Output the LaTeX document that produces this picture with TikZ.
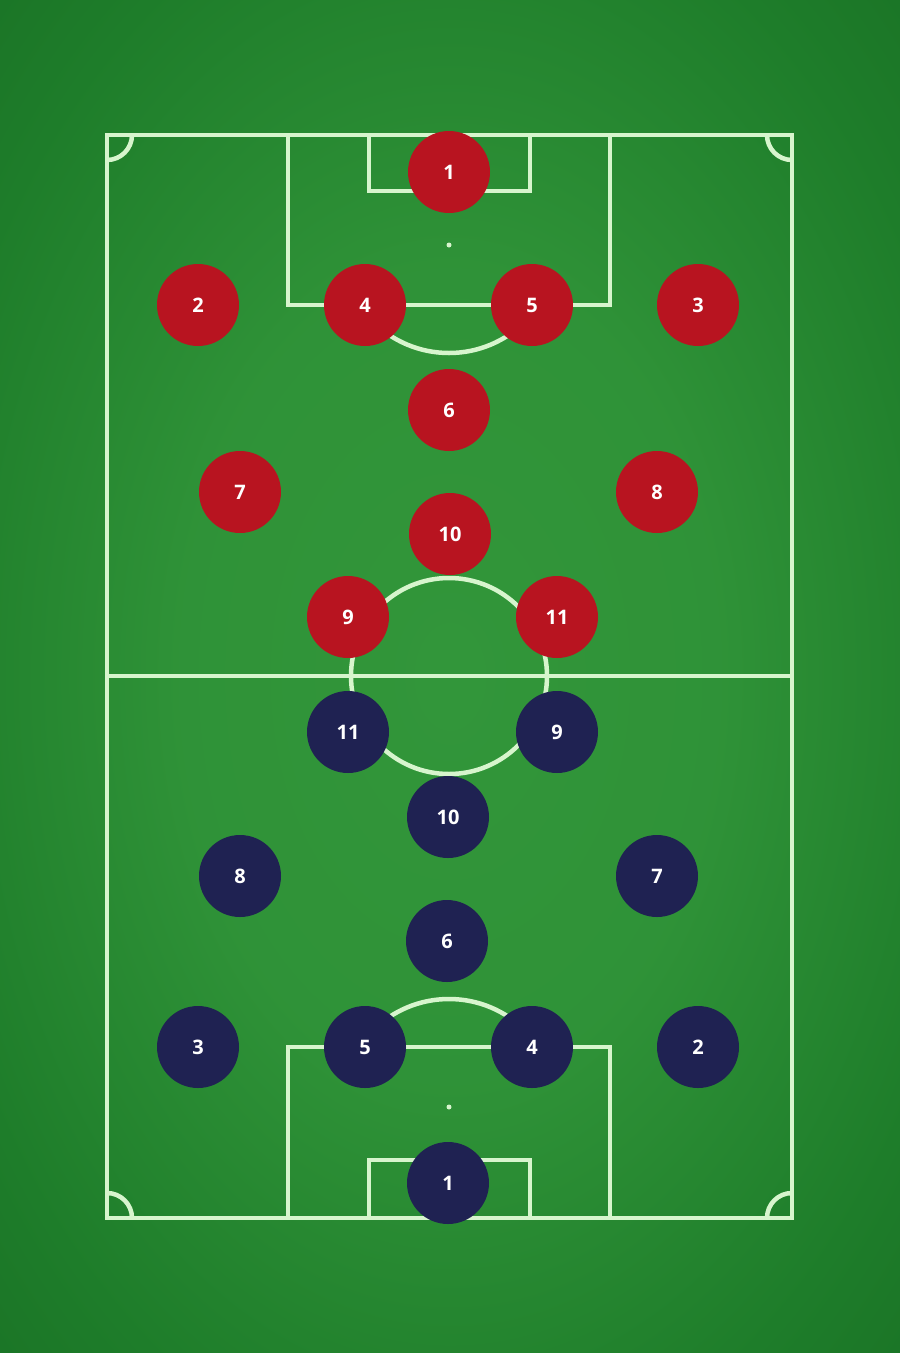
\documentclass[tikz,border=0pt]{standalone}
\usepackage{fontspec}
\setmainfont{Open Sans}
\definecolor{redteam}{RGB}{184,20,32}
\definecolor{blueteam}{RGB}{31,34,82}
\definecolor{pitchline}{RGB}{215,245,205}
\definecolor{grassin}{RGB}{50,150,58}
\definecolor{grassmid}{RGB}{30,125,42}
\definecolor{grassout}{RGB}{12,80,22}
\pgfdeclareradialshading{grass}{\pgfpoint{0bp}{0bp}}{%
  color(0bp)=(grassin); color(15bp)=(grassin!85!grassmid); color(30bp)=(grassmid); color(45bp)=(grassmid!55!grassout); color(58bp)=(grassout); color(100bp)=(grassout)}
\tikzset{
  pline/.style={draw=pitchline, line width=4.5pt},
  player/.style={circle, minimum size=82pt, inner sep=0pt, text=white, font=\fontsize{20pt}{22pt}\selectfont\bfseries},
  redp/.style={player, fill=redteam},
  bluep/.style={player, fill=blueteam}
}
\begin{document}
\begin{tikzpicture}[x=1pt,y=-1pt]
\useasboundingbox (0,0) rectangle (900,1353);
\shade[shading=grass] (0,0) rectangle (900,1353);
% pitch
\draw[pline] (107,135) rectangle (792,1218);
\draw[pline] (107,676) -- (792,676);
\draw[pline] (449,676) circle (98);
% top
\draw[pline] (288,135) -- (288,305) -- (610,305) -- (610,135);
\draw[pline] (369,135) -- (369,191) -- (530,191) -- (530,135);
\fill[pitchline] (449,245) circle (2.5);
\begin{scope}
\clip (0,305) rectangle (900,400);
\draw[pline] (449,245) circle (108);
\end{scope}
% bottom
\draw[pline] (288,1218) -- (288,1047) -- (610,1047) -- (610,1218);
\draw[pline] (369,1218) -- (369,1160) -- (530,1160) -- (530,1218);
\fill[pitchline] (449,1107) circle (2.5);
\begin{scope}
\clip (0,950) rectangle (900,1047);
\draw[pline] (449,1107) circle (108);
\end{scope}
% corners
\begin{scope}
\clip (107,135) rectangle (792,1218);
\draw[pline] (107,135) circle (25);
\draw[pline] (792,135) circle (25);
\draw[pline] (107,1218) circle (25);
\draw[pline] (792,1218) circle (25);
\end{scope}
% red team
\node[redp] (r1) at (449,172) {1};
\node[redp] (r2) at (198,305) {2};
\node[redp] (r4) at (365,305) {4};
\node[redp] (r5) at (532,305) {5};
\node[redp] (r3) at (698,305) {3};
\node[redp] (r6) at (449,410) {6};
\node[redp] (r7) at (240,492) {7};
\node[redp] (r8) at (657,492) {8};
\node[redp] (r10) at (450,534) {10};
\node[redp] (r9) at (348,617) {9};
\node[redp] (r11) at (557,617) {11};
% blue team
\node[bluep] (b11) at (348,732) {11};
\node[bluep] (b9) at (557,732) {9};
\node[bluep] (b10) at (448,817) {10};
\node[bluep] (b8) at (240,876) {8};
\node[bluep] (b7) at (657,876) {7};
\node[bluep] (b6) at (447,941) {6};
\node[bluep] (b3) at (198,1047) {3};
\node[bluep] (b5) at (365,1047) {5};
\node[bluep] (b4) at (532,1047) {4};
\node[bluep] (b2) at (698,1047) {2};
\node[bluep] (b1) at (448,1183) {1};
\end{tikzpicture}
\end{document}
